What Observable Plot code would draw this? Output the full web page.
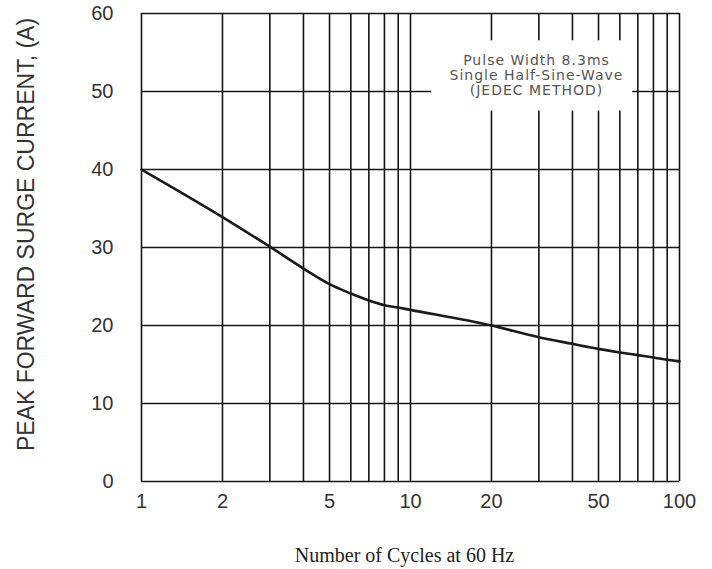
<!DOCTYPE html>
<html>
<head>
<meta charset="utf-8">
<script src="https://cdn.jsdelivr.net/npm/d3@7"></script>
<script src="https://cdn.jsdelivr.net/npm/@observablehq/plot@0.6"></script>
<style>
  body { margin: 0; background: #fff; }
</style>
</head>
<body>
<div id="chart"></div>
<script>
// Maximum non-repetitive peak forward surge current vs. number of cycles
const cycles = [1, 2, 3, 4, 5, 6, 7, 8, 9, 10, 20, 30, 40, 50, 60, 70, 80, 90, 100];
const surgeCurrent = [40, 33.9, 30.1, 27.3, 25.3, 24.1, 23.2, 22.6, 22.3, 22.0, 20.0, 18.5, 17.65, 17.0, 16.55, 16.2, 15.9, 15.62, 15.4];

// Log-cycle grid and axis labels
const gridCycles = [1, 2, 3, 4, 5, 6, 7, 8, 9, 10, 20, 30, 40, 50, 60, 70, 80, 90, 100];
const gridCurrent = [0, 10, 20, 30, 40, 50, 60];
const xTickLabels = [1, 2, 5, 10, 20, 50, 100];
const yTickLabels = [0, 10, 20, 30, 40, 50, 60];

const noteText = "Pulse Width 8.3ms\nSingle Half-Sine-Wave\n(JEDEC METHOD)";
const xTitle = "Number of Cycles at 60 Hz";
const yTitle = "PEAK FORWARD SURGE CURRENT, (A)";

const curve = cycles.map((c, i) => ({cycles: c, current: surgeCurrent[i]}));

const chart = Plot.plot({
  width: 712,
  height: 569,
  marginLeft: 141,
  marginRight: 33,
  marginTop: 13,
  marginBottom: 88,
  style: {fontFamily: "Liberation Sans, Arial, sans-serif", background: "#fff", color: "#333"},
  x: {type: "log", domain: [1, 100]},
  y: {domain: [0, 60]},
  marks: [
    // grid
    Plot.ruleX(gridCycles, {stroke: "#151515", strokeWidth: 1.6}),
    Plot.ruleY(gridCurrent, {stroke: "#151515", strokeWidth: 1.6}),
    // note box blanking out the grid behind the legend text
    Plot.rect([0], {x1: () => 12, x2: () => 67, y1: () => 47.5, y2: () => 56.5, fill: "white"}),
    Plot.text([noteText], {
      x: () => 29.4, y: () => 52.05, text: d => d,
      lineHeight: 1.07, fontSize: 14, fill: "#555",
      fontFamily: "DejaVu Sans, sans-serif", textAnchor: "middle"
    }),
    // surge current curve
    Plot.line(curve, {x: "cycles", y: "current", stroke: "#1a1a1a", strokeWidth: 2.6, curve: "monotone-x"}),
    // axes
    Plot.axisX({ticks: xTickLabels, tickFormat: d => String(d), tickSize: 0, tickPadding: 12,
      fontSize: 20, fill: "#333", label: null}),
    Plot.axisY({ticks: yTickLabels, tickSize: 0, tickPadding: 28,
      fontSize: 20, fill: "#333", label: null}),
    // axis titles
    Plot.text([xTitle], {frameAnchor: "bottom", dx: -6, dy: 80, text: d => d,
      fontFamily: "Liberation Serif, Times New Roman, serif", fontSize: 20, fill: "#222"}),
    Plot.text([yTitle], {frameAnchor: "left", textAnchor: "middle", rotate: -90, dx: -115, dy: -13,
      text: d => d, fontSize: 23, fill: "#333"})
  ]
});

// widen the note lettering slightly
d3.select(chart).selectAll("text")
  .filter(function () { return this.textContent.includes("JEDEC"); })
  .attr("letter-spacing", "1px");

document.getElementById("chart").appendChild(chart);
</script>
</body>
</html>
